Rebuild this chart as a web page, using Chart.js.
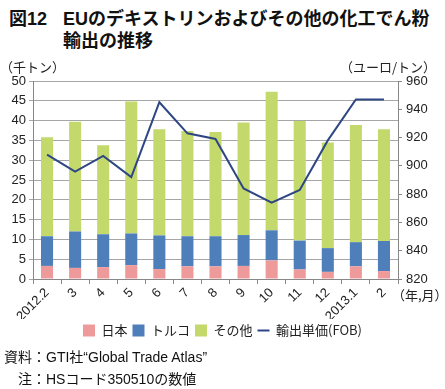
<!DOCTYPE html>
<html>
<head>
<meta charset="utf-8">
<script src="https://cdn.jsdelivr.net/npm/chart.js@4"></script>
<style>
  body { margin: 0; background: #fff; font-family: "Liberation Sans", "Noto Sans CJK JP", sans-serif; }
  #wrap { position: relative; width: 445px; height: 389px; overflow: hidden; }
  .title { position: absolute; font-weight: bold; font-size: 18px; color: #111; white-space: nowrap; font-family: "Liberation Sans", "Noto Sans CJK JP", sans-serif; }
  .note { position: absolute; font-size: 14px; color: #111; white-space: nowrap; }
  #box { position: absolute; left: 0; top: 55px; width: 445px; height: 292px; }
</style>
</head>
<body>
<div id="wrap">
  <div class="title" style="left:9px; top:4px;">図12</div>
  <div class="title" style="left:63px; top:4px;">EUのデキストリンおよびその他の化工でん粉</div>
  <div class="title" style="left:63px; top:26px;">輸出の推移</div>
  <div id="box"><canvas id="chart"></canvas></div>
  <div class="note" style="left:4px; top:346px;">資料：GTI社“Global Trade Atlas”</div>
  <div class="note" style="left:18px; top:368px;">注：HSコード350510の数値</div>
</div>
<script>
// data (千トン / ユーロ/トン)
const months = ['2012.2', '3', '4', '5', '6', '7', '8', '9', '10', '11', '12', '2013.1', '2'];
const japan  = [3.3, 2.8, 3.0, 3.5, 2.5, 3.2, 3.2, 3.3, 4.7, 2.4, 1.8, 3.2, 2.0];
const turkey = [7.5, 9.2, 8.3, 8.0, 8.5, 7.6, 7.6, 7.8, 7.6, 7.3, 6.0, 6.1, 7.6];
const totals = [35.8, 39.7, 33.8, 44.8, 37.8, 37.4, 37.1, 39.5, 47.3, 39.9, 34.5, 38.9, 37.8];
const others = totals.map((t, i) => +(t - japan[i] - turkey[i]).toFixed(1));
const price  = [908, 896, 907, 892, 945, 923, 919, 884, 874, 883, 918, 947, 947];

const font = { family: '"Liberation Sans", "Noto Sans CJK JP", sans-serif', size: 13 };

const extraText = {
  id: 'extraText',
  afterDraw(chart) {
    const c = chart.ctx;
    const area = chart.chartArea;
    c.save();
    c.fillStyle = '#222';
    c.font = '13px "Noto Sans CJK JP", sans-serif';
    c.textBaseline = 'middle';
    c.textAlign = 'left';
    c.fillText('（千トン）', 0, 12);
    c.textAlign = 'right';
    c.fillText('（ユーロ/トン）', 436, 12);
    c.textAlign = 'left';
    c.fillText('（年,月）', area.right - 6, area.bottom + 16);
    c.restore();
  }
};

new Chart(document.getElementById('chart'), {
  data: {
    labels: months,
    datasets: [
      { type: 'bar', label: '日本', data: japan, backgroundColor: '#EF9A9A', yAxisID: 'y', order: 1, stack: 's' },
      { type: 'bar', label: 'トルコ', data: turkey, backgroundColor: '#4F7FBA', yAxisID: 'y', order: 1, stack: 's' },
      { type: 'bar', label: 'その他', data: others, backgroundColor: '#C4D96C', yAxisID: 'y', order: 1, stack: 's' },
      { type: 'line', label: '輸出単価(FOB)', data: price, borderColor: '#2E4784', borderWidth: 2,
        pointRadius: 0, tension: 0, yAxisID: 'y1', order: 0 }
    ]
  },
  options: {
    responsive: true,
    maintainAspectRatio: false,
    animation: false,
    datasets: { bar: { barPercentage: 0.43, categoryPercentage: 1 } },
    layout: { padding: { top: 26, left: 0, right: 0, bottom: 0 } },
    plugins: {
      tooltip: { enabled: false },
      legend: {
        position: 'bottom',
        labels: {
          font: { family: '"Noto Sans CJK JP", sans-serif', size: 13 },
          color: '#222',
          usePointStyle: true,
          pointStyleWidth: 12,
          boxHeight: 12,
          padding: 5,
          generateLabels(chart) {
            return chart.data.datasets.map((ds, i) => ({
              text: ds.label,
              fillStyle: ds.type === 'line' ? ds.borderColor : ds.backgroundColor,
              strokeStyle: ds.type === 'line' ? ds.borderColor : ds.backgroundColor,
              lineWidth: ds.type === 'line' ? 2 : 0,
              pointStyle: ds.type === 'line' ? 'line' : 'rect',
              fontColor: '#222',
              datasetIndex: i
            }));
          }
        }
      }
    },
    scales: {
      x: {
        stacked: true,
        grid: { display: true, drawOnChartArea: false, color: '#888', tickLength: 5, offset: true },
        border: { color: '#888' },
        ticks: { font: font, color: '#222', maxRotation: 45, minRotation: 45, padding: 1 },
        afterFit(s) { s.height = 40; }
      },
      y: {
        stacked: true,
        min: 0, max: 50,
        ticks: { stepSize: 5, font: font, color: '#222', padding: 3 },
        grid: { color: '#a6a6a6', tickLength: 4 },
        border: { color: '#888' },
        afterFit(s) { s.width = 33; }
      },
      y1: {
        position: 'right',
        min: 820, max: 960,
        ticks: { stepSize: 20, font: font, color: '#222', padding: 4 },
        grid: { display: true, drawOnChartArea: false, color: '#888', tickLength: 4 },
        border: { color: '#888' },
        afterFit(s) { s.width = 47; }
      }
    }
  },
  plugins: [extraText]
});
</script>
</body>
</html>
